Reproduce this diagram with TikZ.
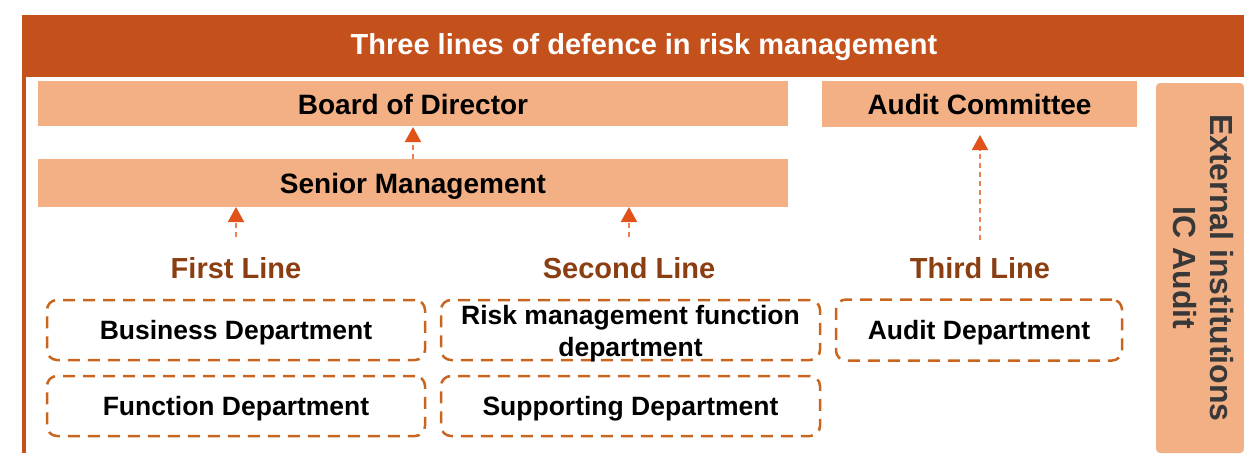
\documentclass[tikz,border=0pt]{standalone}
\usepackage{fontspec}
\setmainfont{Liberation Sans}
\usetikzlibrary{arrows.meta}
\definecolor{banner}{HTML}{C4501C}
\definecolor{light}{HTML}{F3B085}
\definecolor{dashc}{HTML}{C8651E}
\definecolor{arrc}{HTML}{E0521A}
\definecolor{shaftc}{HTML}{EC8050}
\definecolor{linec}{HTML}{8B3E12}
\definecolor{extc}{HTML}{383838}
\tikzset{
  hdr/.style={fill=light, draw=none, inner sep=0pt, font=\fontsize{28}{33}\selectfont\bfseries, text height=23pt, text depth=2pt},
  deptbox/.style={draw=dashc, line width=2.5pt, dash pattern=on 12pt off 8pt, rounded corners=10pt, inner sep=0pt,
     font=\fontsize{26.5}{32}\selectfont\bfseries, align=center, text height=21pt, text depth=3pt},
  linelbl/.style={text=linec, font=\fontsize{29}{34}\selectfont\bfseries, inner sep=0pt, text height=21pt, text depth=0pt},
  uparrow/.style={draw=shaftc, line width=2pt, dash pattern=on 5pt off 4pt,
     -{Triangle[width=16pt,length=15pt,fill=arrc,color=arrc,sep=0pt]}}
}
\begin{document}
\begin{tikzpicture}[x=1pt,y=-1pt]
\useasboundingbox (0,0) rectangle (1244,453);
% banner and left rule
\fill[banner] (22,15) rectangle (1244,77);
\fill[banner] (22,77) rectangle (26,453);
\node[text=white, font=\fontsize{29}{34}\selectfont\bfseries, inner sep=0pt] (title) at (644,47) {Three lines of defence in risk management};
% header boxes
\node[hdr, minimum width=750pt, minimum height=45pt] (board) at (413,103.5) {Board of Director};
\node[hdr, minimum width=750pt, minimum height=48pt] (senior) at (413,183) {Senior Management};
\node[hdr, minimum width=315pt, minimum height=46pt] (audcom) at (979.5,103.5) {Audit Committee};
% external box
\node[fill=light, rounded corners=4pt, minimum width=88pt, minimum height=370pt, inner sep=0pt] (ext) at (1200,268) {};
\node[rotate=-90, text=extc, font=\fontsize{32}{37}\selectfont\bfseries, align=center, inner sep=0pt] (exttext) at (1203,268) {External institutions\\IC Audit};
% line labels
\node[linelbl] (first) at (236,268) {First Line};
\node[linelbl] (second) at (629,268) {Second Line};
\node[linelbl] (third) at (980,268) {Third Line};
% dashed department boxes
\node[deptbox, minimum width=378pt, minimum height=60pt] (business) at (236,330) {Business Department};
\node[deptbox, minimum width=378pt, minimum height=60pt] (function) at (236,406) {Function Department};
\node[deptbox, minimum width=379pt, minimum height=60pt, text height=59pt, text depth=6pt, inner ysep=-4pt] (risk) at (630.5,330) {Risk management function\\department};
\node[deptbox, minimum width=379pt, minimum height=60pt] (support) at (630.5,406) {Supporting Department};
\node[deptbox, minimum width=286pt, minimum height=61pt] (auddept) at (979,330) {Audit Department};
% arrows
\coordinate (a1) at (236,237);
\coordinate (a1t) at (236,207);
\coordinate (a2) at (629,237);
\coordinate (a2t) at (629,207);
\coordinate (a3) at (980,240);
\coordinate (a3t) at (980,135);
\coordinate (a0) at (413,159);
\coordinate (a0t) at (413,127);
\draw[uparrow] (a0) -- (a0t);
\draw[uparrow] (a1) -- (a1t);
\draw[uparrow] (a2) -- (a2t);
\draw[uparrow] (a3) -- (a3t);
\end{tikzpicture}
\end{document}
